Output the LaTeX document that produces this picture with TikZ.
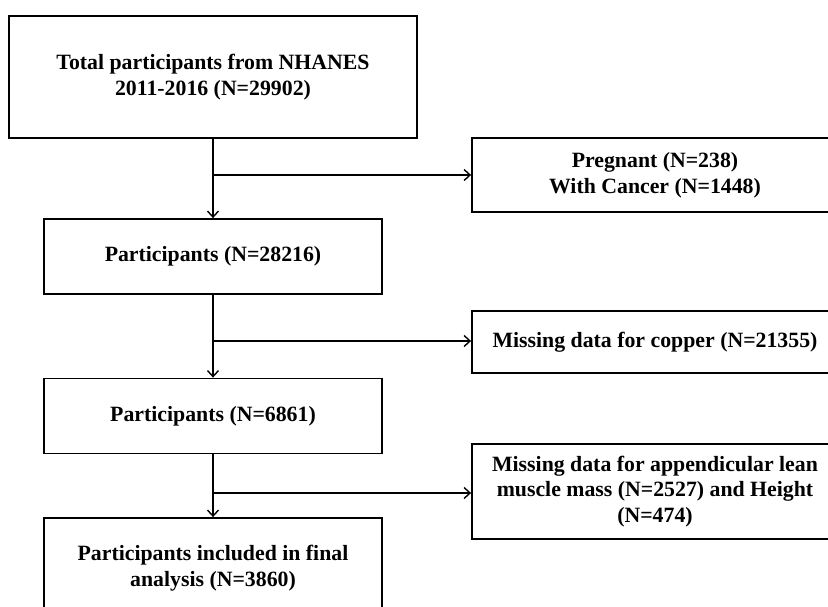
\documentclass[tikz,border=0pt]{standalone}
\usepackage{fontspec}
\setmainfont{Liberation Serif}
\usetikzlibrary{arrows.meta}
\begin{document}
\begin{tikzpicture}[x=1pt,y=-1pt,
  box/.style={draw, line width=1.8pt, align=center, inner sep=0pt,
    font=\fontsize{21.8}{25.8}\selectfont\bfseries},
  conn/.style={line width=1.4pt, -{Straight Barb[length=6pt,width=11pt,line width=1.4pt]}}]
\useasboundingbox (0,0) rectangle (828,607);
\clip (0,0) rectangle (828,607);
\node[box, minimum width=408pt, minimum height=122pt] (b1) at (213,77) {Total participants from NHANES\\2011-2016 (N=29902)};
\node[box, minimum width=338pt, minimum height=75pt] (b2) at (213,256.5) {Participants (N=28216)};
\node[box, minimum width=338pt, minimum height=75pt] (b3) at (213,416) {Participants (N=6861)};
\node[box, minimum width=338pt, minimum height=100pt] (b4) at (213,568) {Participants included in final\\analysis (N=3860)};
\node[box, minimum width=366pt, minimum height=74pt] (r1) at (655,175) {Pregnant (N=238)\\With Cancer (N=1448)};
\node[box, minimum width=366pt, minimum height=62pt] (r2) at (655,342) {Missing data for copper (N=21355)};
\node[box, minimum width=366pt, minimum height=95pt] (r3) at (655,491.5) {Missing data for appendicular lean\\muscle mass (N=2527) and Height\\(N=474)};
\coordinate (j1) at (213,175);
\coordinate (j2) at (213,341);
\coordinate (j3) at (213,493);
\draw[conn] (b1.south) -- (b2.north);
\draw[conn] (b2.south) -- (b3.north);
\draw[conn] (b3.south) -- (b4.north);
\draw[conn] (j1) -- (r1.west |- j1);
\draw[conn] (j2) -- (r2.west |- j2);
\draw[conn] (j3) -- (r3.west |- j3);
\end{tikzpicture}
\end{document}
